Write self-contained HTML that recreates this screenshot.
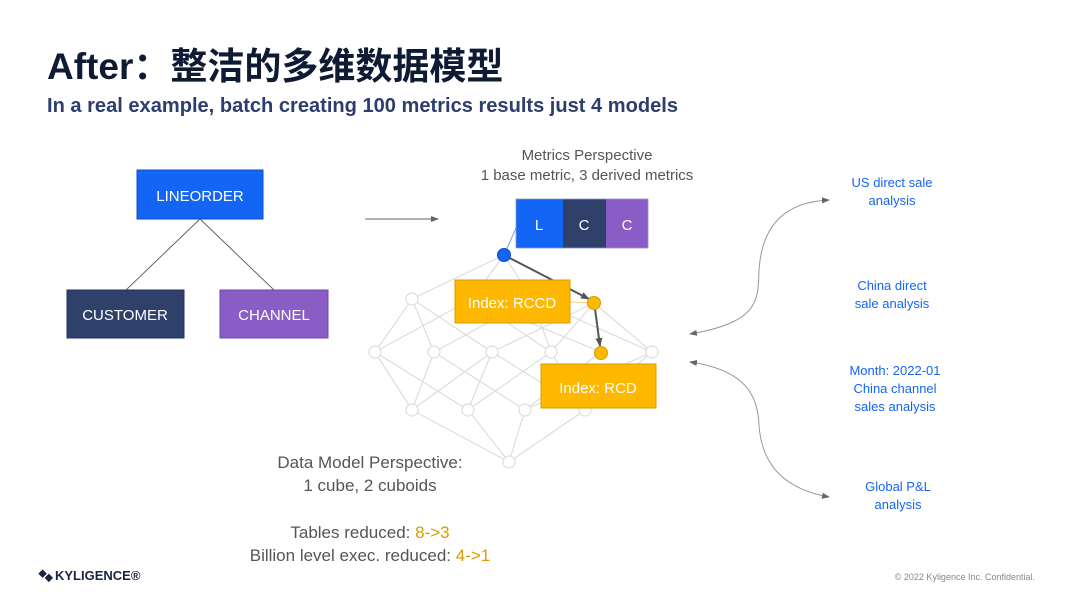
<!DOCTYPE html>
<html><head><meta charset="utf-8"><style>
html,body{margin:0;padding:0;background:#fff}
svg{display:block}
text{font-family:"Liberation Sans","Noto Sans CJK SC",sans-serif}
</style></head><body>
<svg width="1080" height="608" viewBox="0 0 1080 608" xmlns="http://www.w3.org/2000/svg">
<defs>
<marker id="ar" markerWidth="8" markerHeight="8" refX="7" refY="4" orient="auto-start-reverse" markerUnits="userSpaceOnUse"><path d="M0,1 L8,4 L0,7 z" fill="#666"/></marker>
<marker id="ar2" markerWidth="9" markerHeight="9" refX="8" refY="4.5" orient="auto" markerUnits="userSpaceOnUse"><path d="M0,1 L9,4.5 L0,8 z" fill="#555"/></marker>
</defs>
<text x="47" y="79" font-size="37" font-weight="bold" fill="#0f1a33">After：整洁的多维数据模型</text>
<text x="47" y="112" font-size="20" font-weight="bold" fill="#2d3e6e" textLength="631" lengthAdjust="spacingAndGlyphs">In a real example, batch creating 100 metrics results just 4 models</text>

<line x1="200" y1="219" x2="126" y2="290" stroke="#666" stroke-width="1"/>
<line x1="200" y1="219" x2="274" y2="290" stroke="#666" stroke-width="1"/>
<rect x="137" y="170" width="126" height="49" fill="#1366f5" stroke="#0d4fc0"/>
<text x="200" y="201" font-size="15" fill="#fff" text-anchor="middle">LINEORDER</text>
<rect x="67" y="290" width="117" height="48" fill="#2f416b" stroke="#22325a"/>
<text x="125" y="320" font-size="15" fill="#fff" text-anchor="middle">CUSTOMER</text>
<rect x="220" y="290" width="108" height="48" fill="#8a5cc6" stroke="#6f46a8"/>
<text x="274" y="320" font-size="15" fill="#fff" text-anchor="middle">CHANNEL</text>

<line x1="365" y1="219" x2="438" y2="219" stroke="#666" marker-end="url(#ar)"/>

<text x="587" y="160" font-size="15" fill="#555" text-anchor="middle">Metrics Perspective</text>
<text x="587" y="180" font-size="15" fill="#555" text-anchor="middle">1 base metric, 3 derived metrics</text>

<g stroke="#ddd" stroke-width="1.2" fill="none">
<line x1="504" y1="255" x2="412" y2="299"/><line x1="504" y1="255" x2="472" y2="299"/><line x1="504" y1="255" x2="532" y2="299"/>
<line x1="412" y1="299" x2="375" y2="352"/><line x1="412" y1="299" x2="434" y2="352"/><line x1="412" y1="299" x2="492" y2="352"/>
<line x1="472" y1="299" x2="375" y2="352"/><line x1="472" y1="299" x2="551" y2="352"/><line x1="472" y1="299" x2="601" y2="352"/>
<line x1="532" y1="299" x2="434" y2="352"/><line x1="532" y1="299" x2="551" y2="352"/><line x1="532" y1="299" x2="652" y2="352"/>
<line x1="594" y1="303" x2="492" y2="352"/><line x1="594" y1="303" x2="652" y2="352"/><line x1="594" y1="303" x2="551" y2="352"/>
<line x1="375" y1="352" x2="412" y2="410"/><line x1="375" y1="352" x2="468" y2="410"/>
<line x1="434" y1="352" x2="412" y2="410"/><line x1="434" y1="352" x2="525" y2="410"/>
<line x1="492" y1="352" x2="412" y2="410"/><line x1="492" y1="352" x2="585" y2="410"/><line x1="492" y1="352" x2="468" y2="410"/>
<line x1="551" y1="352" x2="468" y2="410"/><line x1="551" y1="352" x2="585" y2="410"/>
<line x1="601" y1="352" x2="525" y2="410"/><line x1="652" y1="352" x2="585" y2="410"/><line x1="652" y1="352" x2="525" y2="410"/>
<line x1="412" y1="410" x2="509" y2="462"/><line x1="468" y1="410" x2="509" y2="462"/><line x1="525" y1="410" x2="509" y2="462"/><line x1="585" y1="410" x2="509" y2="462"/>
</g>
<g fill="#fff" stroke="#ddd" stroke-width="1.2">
<circle cx="412" cy="299" r="6"/><circle cx="472" cy="299" r="6"/><circle cx="532" cy="299" r="6"/>
<circle cx="375" cy="352" r="6"/><circle cx="434" cy="352" r="6"/><circle cx="492" cy="352" r="6"/><circle cx="551" cy="352" r="6"/><circle cx="652" cy="352" r="6"/>
<circle cx="412" cy="410" r="6"/><circle cx="468" cy="410" r="6"/><circle cx="525" cy="410" r="6"/><circle cx="585" cy="410" r="6"/>
<circle cx="509" cy="462" r="6"/>
</g>
<line x1="504" y1="255" x2="517" y2="226" stroke="#6aa0f5" stroke-width="1"/>
<rect x="516" y="199" width="47" height="49" fill="#1366f5"/>
<rect x="563" y="199" width="43" height="49" fill="#2f416b"/>
<rect x="606" y="199" width="42" height="49" fill="#8a5cc6"/>
<rect x="516" y="199" width="132" height="49" fill="none" stroke="#8a9cc0" stroke-width="0.8"/>
<text x="539" y="230" font-size="15" fill="#fff" text-anchor="middle">L</text>
<text x="584" y="230" font-size="15" fill="#fff" text-anchor="middle">C</text>
<text x="627" y="230" font-size="15" fill="#fff" text-anchor="middle">C</text>

<line x1="570" y1="302" x2="594" y2="303" stroke="#ffd27a" stroke-width="1"/>
<line x1="504" y1="255" x2="589" y2="299" stroke="#555" stroke-width="2" marker-end="url(#ar2)"/>
<line x1="595" y1="309" x2="600" y2="346" stroke="#555" stroke-width="2" marker-end="url(#ar2)"/>
<rect x="455" y="280" width="115" height="43" fill="#ffb800" stroke="#d99c00"/>
<text x="512" y="308" font-size="15" fill="#fff" text-anchor="middle">Index: RCCD</text>
<rect x="541" y="364" width="115" height="44" fill="#ffb800" stroke="#d99c00"/>
<text x="598" y="393" font-size="15" fill="#fff" text-anchor="middle">Index: RCD</text>
<circle cx="504" cy="255" r="6.5" fill="#1366f5" stroke="#0d4fc0"/>
<circle cx="594" cy="303" r="6.5" fill="#ffb800" stroke="#d99c00"/>
<circle cx="601" cy="353" r="6.5" fill="#ffb800" stroke="#d99c00"/>

<text x="370" y="468" font-size="17" fill="#555" text-anchor="middle">Data Model Perspective:</text>
<text x="370" y="491" font-size="17" fill="#555" text-anchor="middle">1 cube, 2 cuboids</text>
<text x="370" y="538" font-size="17" fill="#555" text-anchor="middle">Tables reduced: <tspan fill="#d99c00">8-&gt;3</tspan></text>
<text x="370" y="561" font-size="17" fill="#555" text-anchor="middle">Billion level exec. reduced: <tspan fill="#d99c00">4-&gt;1</tspan></text>

<path d="M690,334 C760,322 758,300 759,270 C762,225 785,202 829,200" fill="none" stroke="#999" stroke-width="1" marker-start="url(#ar)" marker-end="url(#ar)"/>
<path d="M690,362 C745,370 758,395 759,425 C762,470 790,490 829,497" fill="none" stroke="#999" stroke-width="1" marker-start="url(#ar)" marker-end="url(#ar)"/>
<g font-size="13" fill="#1366f5" text-anchor="middle">
<text x="892" y="187">US direct sale</text><text x="892" y="205">analysis</text>
<text x="892" y="290">China direct</text><text x="892" y="308">sale analysis</text>
<text x="895" y="375">Month: 2022-01</text><text x="895" y="393">China channel</text><text x="895" y="411">sales analysis</text>
<text x="898" y="491">Global P&amp;L</text><text x="898" y="509">analysis</text>
</g>

<g transform="translate(44,575)" fill="#1a2440">
<rect x="-5" y="-3" width="6" height="6" transform="rotate(45)"/>
<rect x="1" y="-3" width="6" height="6" transform="translate(2,0) rotate(45)"/>
</g>
<text x="55" y="580" font-size="13" font-weight="bold" fill="#1a2440">KYLIGENCE®</text>
<text x="1035" y="580" font-size="9" fill="#888" text-anchor="end">© 2022 Kyligence Inc. Confidential.</text>
</svg>
</body></html>
